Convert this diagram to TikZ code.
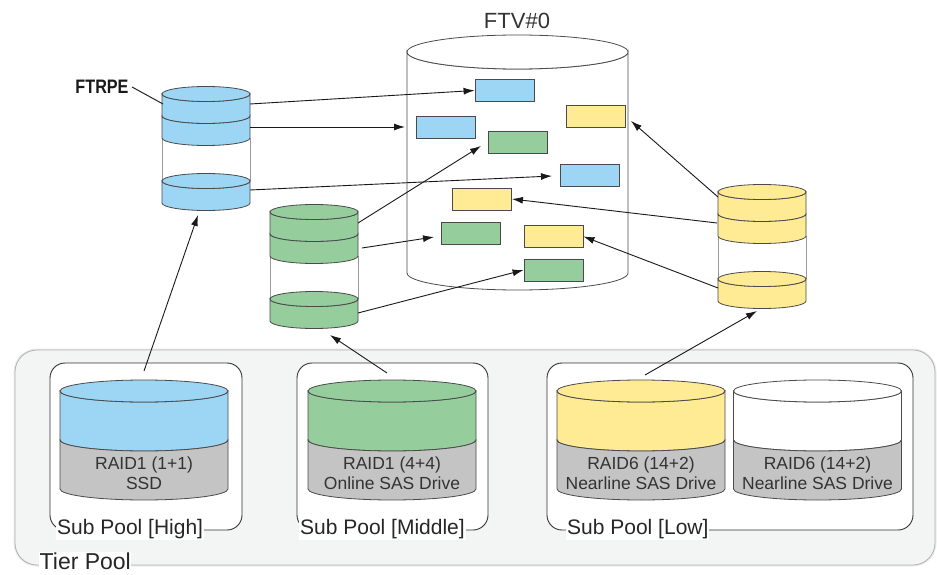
\documentclass[tikz,border=0pt]{standalone}
\usepackage{fontspec}
\setmainfont{Liberation Sans}
\newfontfamily\labelfont[FakeStretch=0.83]{Liberation Sans}
\usetikzlibrary{arrows.meta}
\definecolor{cblue}{HTML}{9DD6F4}
\definecolor{cgreen}{HTML}{95CD9D}
\definecolor{cyellow}{HTML}{FFEB94}
\definecolor{cgray}{HTML}{C4C4C4}
\definecolor{cedge}{HTML}{4A4A4A}
\definecolor{cside}{HTML}{9A9A9A}
\definecolor{ctier}{HTML}{F3F4F4}
\newcommand\mybandshape[6]{%
  \filldraw[fill=#6, edge] ({#1-#4},{#2}) -- ({#1-#4},{#3})
    arc[start angle=180,end angle=0,x radius=#4,y radius=#5] -- ({#1+#4},{#2})
    arc[start angle=0,end angle=180,x radius=#4,y radius=#5] -- cycle;}
\newcommand\mytopface[5]{%
  \filldraw[fill=#5, edge] ({#1},{#2}) ellipse[x radius=#3, y radius=#4];}
\newcommand\mystack[3]{%
  \draw[draw=cside, line width=0.7pt] ({#1-44},{#2+44}) -- ({#1-44},{#2+87})
        ({#1+44},{#2+44}) -- ({#1+44},{#2+87});
  \mybandshape{#1}{#2}{#2+22}{44}{7.5}{#3}
  \mytopface{#1}{#2}{44}{7.5}{#3}
  \mybandshape{#1}{#2+22}{#2+44}{44}{7.5}{#3}
  \mybandshape{#1}{#2+87}{#2+109}{44}{7.5}{#3}
  \mytopface{#1}{#2+87}{44}{7.5}{#3}}
\newcommand\mypool[4]{%
  \mybandshape{#1}{391}{440}{84}{11}{#2}
  \mybandshape{#1}{440}{489}{84}{11}{cgray}
  \mytopface{#1}{391}{84}{11}{#2}
  \node[raid] (#4) at (#1,473) {#3};}
\begin{document}
\begin{tikzpicture}[x=1pt,y=-1pt,
  edge/.style={draw=cedge, line width=0.8pt},
  arr/.style={-{Latex[length=11pt,width=7pt]}, line width=0.9pt, draw=black!90},
  blk/.style={draw=cedge, line width=0.8pt, minimum width=59pt, minimum height=22pt, inner sep=0pt},
  subpool/.style={draw=black!80, line width=0.9pt, fill=white, rounded corners=15pt, inner sep=0pt},
  sublabel/.style={font=\fontsize{21}{24}\selectfont, text=black!85, fill=white, inner sep=1pt, anchor=west},
  raid/.style={font=\fontsize{17.5}{20}\selectfont, text=black!80, align=center},
]
\useasboundingbox (0,0) rectangle (937,575);

% Tier pool
\draw[line width=3pt, black!8, rounded corners=22pt] (15,350) rectangle (935,565);
\node[draw=black!30, line width=0.8pt, fill=ctier, rounded corners=22pt, inner sep=0pt,
      minimum width=920pt, minimum height=215pt] (tier) at (475,457.5) {};
\node[font=\fontsize{23}{26}\selectfont, text=black!85, fill=white, inner sep=0.5pt, anchor=base west] (tierlbl) at (39,569) {Tier Pool};

% Sub pools
\node[subpool, minimum width=192pt, minimum height=167pt] (spH) at (146,446.5) {};
\node[subpool, minimum width=191pt, minimum height=167pt] (spM) at (392.5,446.5) {};
\node[subpool, minimum width=366pt, minimum height=167pt] (spL) at (730,446.5) {};
\node[sublabel] (lblH) at (56,529) {Sub Pool [High]};
\node[sublabel] (lblM) at (299,529) {Sub Pool [Middle]};
\node[sublabel] (lblL) at (566,529) {Sub Pool [Low]};

\mypool{144}{cblue}{RAID1 (1+1)\\SSD}{poolH}
\mypool{392}{cgreen}{RAID1 (4+4)\\Online SAS Drive}{poolM}
\mypool{641}{cyellow}{RAID6 (14+2)\\Nearline SAS Drive}{poolL1}
\mypool{817.5}{white}{RAID6 (14+2)\\Nearline SAS Drive}{poolL2}

% FTV
\mybandshape{517.5}{52}{273}{110.5}{17}{white}
\mytopface{517.5}{52}{110.5}{17}{white}
\node[font=\fontsize{22}{24}\selectfont, text=black!80] (ftvlbl) at (517,21) {FTV\#0};

\node[blk, fill=cblue]   (r1) at (504.5,90.5) {};
\node[blk, fill=cblue]   (r2) at (446,127.5) {};
\node[blk, fill=cyellow] (r3) at (595.5,116) {};
\node[blk, fill=cgreen]  (r4) at (518,142) {};
\node[blk, fill=cblue]   (r5) at (589.5,175) {};
\node[blk, fill=cyellow] (r6) at (482,199) {};
\node[blk, fill=cgreen]  (r7) at (471,233.5) {};
\node[blk, fill=cyellow] (r8) at (553.5,236.5) {};
\node[blk, fill=cgreen]  (r9) at (553.5,270) {};

% stacked cylinders
\mystack{206}{94}{cblue}
\mystack{314}{212}{cgreen}
\mystack{762}{192}{cyellow}

% FTRPE label
\node[font=\labelfont\bfseries\fontsize{19.5}{20}\selectfont, text=black!90] (ftrpe) at (102,87) {FTRPE};
\coordinate (lead) at (163,104);
\draw[line width=1pt, black!85] (ftrpe.east) -- (lead);

% connector end points
\coordinate (bA) at (250,104);
\coordinate (bB) at (250,127);
\coordinate (bC) at (250,190);
\coordinate (bBot) at (198,215);
\coordinate (gA) at (358,223);
\coordinate (gB) at (362,248);
\coordinate (gC) at (358,313);
\coordinate (gBot) at (330,335);
\coordinate (yA) at (718,197);
\coordinate (yB) at (717,223);
\coordinate (yC) at (718,288);
\coordinate (yBot) at (757,311);
\coordinate (ftvL) at (405,127);
\coordinate (t3) at (631,121);
\coordinate (t4) at (481,146);
\coordinate (t5) at (552,176);
\coordinate (t7) at (434,237);
\coordinate (hS) at (144,371);
\coordinate (mS) at (387,373);
\coordinate (lS) at (645,375);

% arrows
\draw[arr] (bA) -- (r1.west);
\draw[arr] (bB) -- (ftvL);
\draw[arr] (bC) -- (t5);
\draw[arr] (gA) -- (t4);
\draw[arr] (gB) -- (t7);
\draw[arr] (gC) -- (r9.west);
\draw[arr] (yA) -- (t3);
\draw[arr] (yB) -- (r6.east);
\draw[arr] (yC) -- (r8.east);
\draw[arr] (hS) -- (bBot);
\draw[arr] (mS) -- (gBot);
\draw[arr] (lS) -- (yBot);
\end{tikzpicture}
\end{document}
